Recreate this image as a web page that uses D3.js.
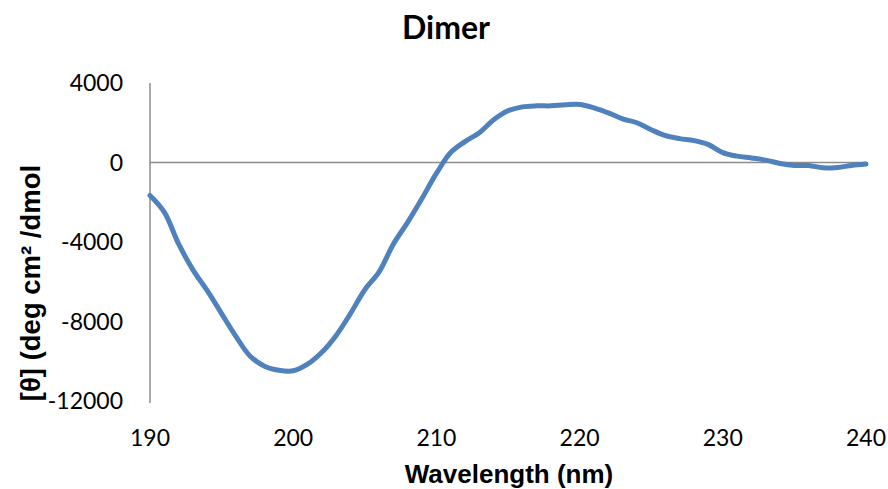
<!DOCTYPE html>
<html><head><meta charset="utf-8">
<script src="https://cdn.jsdelivr.net/npm/d3@7"></script>
<style>html,body{margin:0;padding:0;background:#fff}</style>
</head><body>
<svg id="c" width="888" height="489"></svg>
<script>
const wavelengths = d3.range(190, 241);
const ellipticity = [-1660,-2500,-4100,-5400,-6450,-7600,-8750,-9750,-10250,-10450,
 -10480,-10150,-9550,-8700,-7600,-6400,-5500,-4100,-3000,-1800,
 -550,500,1050,1500,2150,2600,2800,2850,2850,2900,
 2920,2750,2500,2200,2000,1650,1350,1200,1100,900,
 500,320,230,120,-50,-150,-150,-270,-250,-150,-80];
const xTicks = [190,200,210,220,230,240];
const yTicks = [4000,0,-4000,-8000,-12000];
const title = "Dimer";
const xTitle = "Wavelength (nm)";
const yTitle = "[θ] (deg cm² /dmol";

const svg = d3.select("#c");
const x = d3.scaleLinear().domain([190,240]).range([150,866]);
const y = d3.scaleLinear().domain([-12000,4000]).range([401,83]);
const data = wavelengths.map((w,i)=>({w, v: ellipticity[i]}));

// y axis line
svg.append("line").attr("x1",x(190)).attr("x2",x(190)).attr("y1",y(4000)).attr("y2",y(-12000)+2)
  .attr("stroke","#8c8c8c").attr("stroke-width",1.5);
// zero line
svg.append("line").attr("x1",x(190)).attr("x2",x(240)).attr("y1",y(0)).attr("y2",y(0))
  .attr("stroke","#8c8c8c").attr("stroke-width",1.5);

// y tick labels
svg.append("g").selectAll("text").data(yTicks).join("text")
  .attr("x",123).attr("y",d=>y(d)).attr("dy","0.36em").attr("text-anchor","end")
  .attr("font-family","Lato, 'Open Sans', sans-serif").attr("font-size",23).attr("fill","#000")
  .text(d=>d);
// x tick labels
svg.append("g").selectAll("text").data(xTicks).join("text")
  .attr("x",d=>x(d)).attr("y",446).attr("text-anchor","middle")
  .attr("font-family","Lato, 'Open Sans', sans-serif").attr("font-size",23).attr("fill","#000")
  .text(d=>d);

// line
svg.append("path").datum(data)
  .attr("fill","none").attr("stroke","#4f81bd").attr("stroke-width",5).attr("stroke-linejoin","round").attr("stroke-linecap","round")
  .attr("d", d3.line().x(d=>x(d.w)).y(d=>y(d.v)).curve(d3.curveCatmullRom.alpha(0.5)));

// titles
svg.append("text").attr("x",446).attr("y",39).attr("text-anchor","middle")
  .attr("font-family","Lato, sans-serif").attr("font-weight","bold").attr("font-size",32).text(title);
svg.append("text").attr("x",509).attr("y",483).attr("text-anchor","middle")
  .attr("font-family","'Liberation Sans', Arial, sans-serif").attr("font-weight","bold").attr("font-size",26).text(xTitle);
svg.append("text").attr("transform","translate(40,283) rotate(-90)").attr("text-anchor","middle")
  .attr("font-family","'Liberation Sans', Arial, sans-serif").attr("font-weight","bold").attr("font-size",27.5).text(yTitle);
</script>
</body></html>
